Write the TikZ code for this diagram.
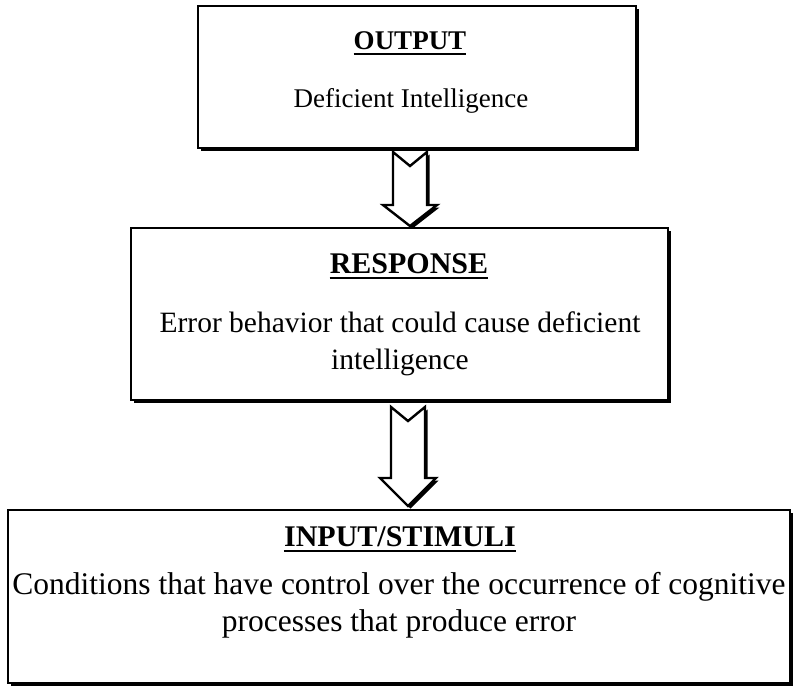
\documentclass[tikz,border=0pt]{standalone}
\usepackage{fontspec}
\setmainfont{Liberation Serif}
\usetikzlibrary{calc,shadows}
\begin{document}
\begin{tikzpicture}[x=1pt,y=-1pt,
  hardshadow/.style={drop shadow={shadow xshift=2.5pt,shadow yshift=-2.5pt,opacity=1,fill=black}},
  panel/.style={rectangle,draw=black,line width=2.4pt,fill=white,inner sep=0pt,hardshadow},
  title/.style={font=\fontsize{#1}{37}\selectfont\bfseries,inner sep=0pt,anchor=base},
  body/.style={font=\fontsize{#1}{37}\selectfont,inner sep=0pt,anchor=base,align=center},
  rule/.style={line width=1.6pt},
  blockarrow/.style={draw=black,line width=2.4pt,fill=white,line join=miter,hardshadow},
]
\useasboundingbox (0,0) rectangle (796,689);

% three stacked boxes
\node[panel,minimum width=438pt,minimum height=142pt] (out)  at (417,77)  {};
\node[panel,minimum width=537pt,minimum height=172pt] (resp) at (399.5,314) {};
\node[panel,minimum width=782pt,minimum height=173pt] (inp)  at (399,596.5) {};

% box texts (two-line nodes sit on the baseline of their last line)
\node[title=27] (outT) at (410,49) {OUTPUT};
\node[body=27]  (outB) at (411,107) {Deficient Intelligence};
\node[title=30] (respT) at (409,273) {RESPONSE};
\node[body=29.5]  (respB) at (400,369) {Error behavior that could cause deficient\\intelligence};
\node[title=30] (inpT) at (400,546) {INPUT/STIMULI};
\node[body=31.5]  (inpB) at (399,631) {Conditions that have control over the occurrence of cognitive\\processes that produce error};

% underlined headings
\foreach \t in {outT,respT,inpT}
  \draw[rule] ([yshift=-5pt]\t.base west) -- ([yshift=-5pt]\t.base east);

% notched block arrows between the boxes
\coordinate (a1) at (410,152);
\draw[blockarrow] ($(a1)+(-17,0)$) -- ($(a1)+(0,14)$) -- ($(a1)+(17,0)$)
  -- ($(a1)+(17,53)$) -- ($(a1)+(27,53)$) -- ($(a1)+(0,74)$)
  -- ($(a1)+(-27,53)$) -- ($(a1)+(-17,53)$) -- cycle;
\coordinate (a2) at (408,407);
\draw[blockarrow] ($(a2)+(-17,0)$) -- ($(a2)+(0,14)$) -- ($(a2)+(17,0)$)
  -- ($(a2)+(17,71)$) -- ($(a2)+(28,71)$) -- ($(a2)+(0,99)$)
  -- ($(a2)+(-28,71)$) -- ($(a2)+(-17,71)$) -- cycle;
\end{tikzpicture}
\end{document}
